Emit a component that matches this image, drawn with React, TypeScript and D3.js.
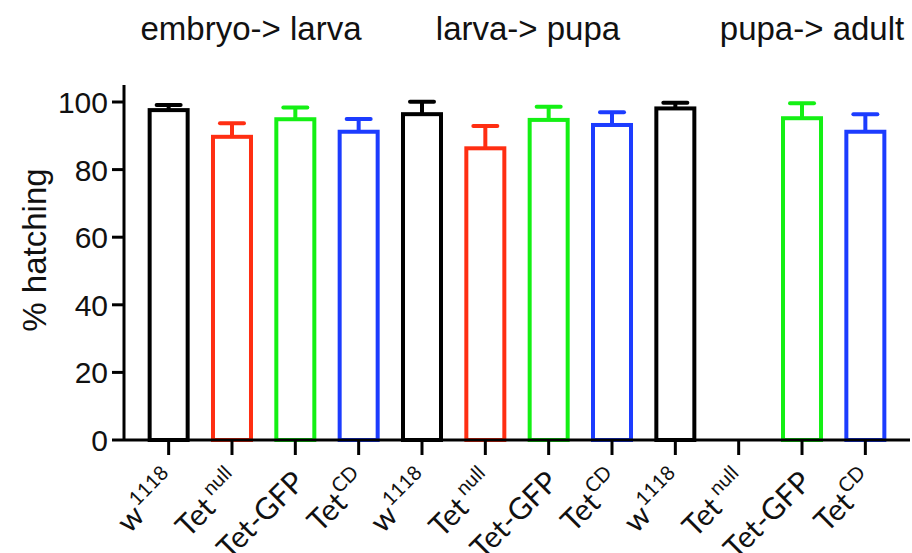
import React from "react";
import * as d3 from "d3";

const baseLabels = ["w", "Tet", "Tet-GFP", "Tet", "w", "Tet", "Tet-GFP", "Tet", "w", "Tet", "Tet-GFP", "Tet"];
const supLabels = ["1118", "null", "", "CD", "1118", "null", "", "CD", "1118", "null", "", "CD"];
const values: (number | null)[] = [97.6, 89.7, 94.9, 91.2, 96.4, 86.3, 94.7, 93.2, 98.1, null, 95.2, 91.2];
const errors: (number | null)[] = [1.5, 4.0, 3.5, 3.8, 3.7, 6.6, 3.9, 3.8, 1.7, null, 4.4, 5.2];
const genotypeColors = ["#000000", "#ff2e12", "#14f014", "#1c3cff"];
const groupTitles = ["embryo-> larva", "larva-> pupa", "pupa-> adult"];
const yTicks = [0, 20, 40, 60, 80, 100];

const W = 912;
const H = 553;
const x0 = 124;
const x1 = 910;
const yBase = 440;
const yTop = 102;

export default function App() {
  const ids = values.map((_, i) => String(i));
  const x = d3.scaleBand<string>().domain(ids).range([x0, x1]).paddingInner(0.4).paddingOuter(0.405);
  const y = d3.scaleLinear().domain([0, 100]).range([yBase, yTop]);
  const bw = x.bandwidth();
  const titleX = [251, 528, 812];
  const sans = "'Liberation Sans', Arial, sans-serif";
  const labFont = "Lato, 'Open Sans', sans-serif";

  return (
    <svg width={W} height={H} style={{ position: "absolute", left: 0, top: 0, background: "#fff" }}>
      {/* titles */}
      {groupTitles.map((t, i) => (
        <text key={t} x={titleX[i]} y={40} textAnchor="middle" fontFamily={sans} fontSize={33} fill="#111">
          {t}
        </text>
      ))}
      {/* y axis label */}
      <text transform={`translate(46,250) rotate(-90)`} textAnchor="middle" fontFamily={sans} fontSize={33} fill="#111">
        % hatching
      </text>
      {/* bars */}
      {values.map((v, i) => {
        if (v == null) return null;
        const c = genotypeColors[i % 4];
        const cx = (x(ids[i]) as number) + bw / 2;
        const e = errors[i] ?? 0;
        return (
          <g key={i} stroke={c} strokeWidth={4} fill="none">
            <rect x={x(ids[i])} y={y(v)} width={bw} height={yBase - y(v)} fill="#fff" />
            <line x1={cx} x2={cx} y1={y(v)} y2={y(v + e)} />
            <line x1={cx - 12} x2={cx + 12} y1={y(v + e)} y2={y(v + e)} strokeLinecap="round" />
          </g>
        );
      })}
      {/* y axis */}
      <line x1={x0} x2={x0} y1={yBase} y2={y(105)} stroke="#000" strokeWidth={3} />
      {yTicks.map((t) => (
        <g key={t}>
          <line x1={x0 - 12} x2={x0} y1={y(t)} y2={y(t)} stroke="#000" strokeWidth={3} />
          <text x={108} y={y(t) + 11} textAnchor="end" fontFamily={sans} fontSize={30} fill="#111">
            {t}
          </text>
        </g>
      ))}
      {/* x axis */}
      <line x1={x0} x2={x1} y1={yBase} y2={yBase} stroke="#000" strokeWidth={3} />
      {ids.map((id, i) => {
        const cx = (x(id) as number) + bw / 2;
        return (
          <g key={id}>
            <line x1={cx} x2={cx} y1={yBase} y2={yBase + 15} stroke="#000" strokeWidth={3} />
            <text
              transform={`translate(${cx + 11},${484}) rotate(-45)`}
              textAnchor="end"
              fontFamily={labFont}
              fontSize={30}
              fill="#111"
            >
              <tspan>{baseLabels[i]}</tspan>
              {supLabels[i] && (
                <tspan dx={supLabels[i] === "null" ? 5 : 1} dy={-14} fontSize={20}>
                  {supLabels[i]}
                </tspan>
              )}
            </text>
          </g>
        );
      })}
    </svg>
  );
}
